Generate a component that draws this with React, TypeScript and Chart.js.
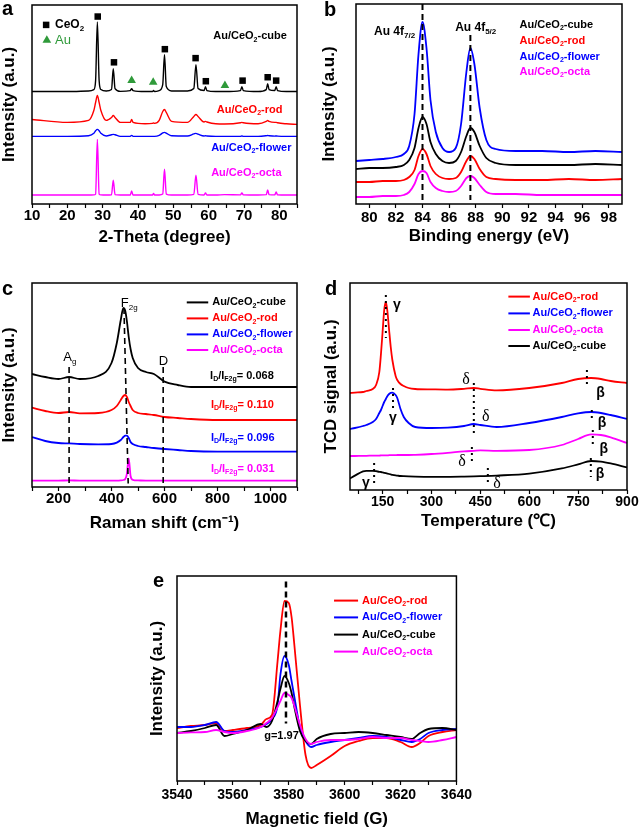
import React, { useEffect, useRef } from 'react';
import Chart from 'chart.js/auto';

const FONT = '"Liberation Sans", Arial, Helvetica, sans-serif';
const SERIF = '"Liberation Serif", "Times New Roman", serif';
const BLACK = '#000000';
const RED = '#ff0000';
const BLUE = '#0000ff';
const MAGENTA = '#ff00ff';
const GREEN = '#2f9a3a';

const nameCube = 'Au/CeO_{2}-cube';
const nameRod = 'Au/CeO_{2}-rod';
const nameFlower = 'Au/CeO_{2}-flower';
const nameOcta = 'Au/CeO_{2}-octa';

// ---------- (a) XRD ----------
const xrdTheta = [10, 20, 26, 27.5, 28, 28.5, 29, 29.5, 31, 32.5, 33, 33.5, 35, 37.8, 38.2, 38.6, 42, 44.1, 44.4, 44.7, 46, 47, 47.5, 48, 49.5, 54, 55.8, 56.4, 57, 58.7, 59.1, 59.5, 62, 64.5, 69, 69.4, 69.8, 74, 76.3, 76.7, 77.1, 78.7, 79.1, 79.5, 82, 85];
const xrdCube = [56.5, 56.5, 56.8, 57.5, 62, 91.5, 62, 57.5, 56.8, 57.5, 68, 58, 56.6, 57, 58, 57, 56.5, 56.5, 57, 56.5, 57, 60, 75, 59, 56.8, 56.8, 58, 70, 58, 57, 59, 57, 56.5, 56.5, 57, 59, 57, 56.5, 57.5, 60.5, 57.5, 57, 59, 57, 56.5, 56.5];
const xrdRod = [42.5, 41, 42, 47, 51, 54.5, 51, 47, 42, 43.5, 44.5, 43.5, 41, 41, 42.5, 41, 40.3, 40.5, 40.7, 40.5, 42, 46.5, 47.5, 46, 41.5, 41, 44, 45, 44, 41.2, 41.5, 41.2, 40.3, 40.2, 40.8, 41, 40.8, 40.3, 41.5, 42, 41.5, 41, 41, 40.8, 40.3, 40];
const xrdFlower = [34, 34, 34.3, 35.5, 36.8, 37.5, 36.8, 35.5, 34.2, 34.8, 35, 34.8, 34, 34, 34.5, 34, 34, 34, 34, 34, 34.5, 35.7, 36, 35.6, 34.3, 34.2, 35.2, 35.5, 35.1, 34.2, 34.3, 34.2, 34, 34, 34, 34.2, 34, 34, 34.3, 34.4, 34.3, 34.1, 34.2, 34.1, 34, 34];
const xrdOcta = [4.5, 4.5, 4.5, 4.6, 5, 32.5, 5, 4.6, 4.5, 4.6, 12, 4.7, 4.5, 4.5, 6.5, 4.5, 4.5, 4.5, 5.3, 4.5, 4.5, 5, 17.5, 5, 4.5, 4.5, 4.8, 14.5, 4.8, 4.5, 5.5, 4.5, 4.5, 4.7, 4.6, 5.6, 4.6, 4.5, 4.7, 7, 4.7, 4.6, 6, 4.6, 4.5, 4.5];
const xrdCeO2PeakX = [28.6, 33.2, 47.6, 56.3, 59.2, 69.6, 76.7, 79.1];
const xrdCeO2MarkY = [94.2, 71.2, 77.8, 73.3, 61.7, 62, 63.7, 62];
const xrdAuPeakX = [38.2, 44.3, 64.6];
const xrdAuMarkY = [62, 61.2, 59.5];
const xrdTicks = [10, 15, 20, 25, 30, 35, 40, 45, 50, 55, 60, 65, 70, 75, 80, 85];
const xrdTickLabels = [10, 20, 30, 40, 50, 60, 70, 80];

// ---------- (b) XPS ----------
const xpsEnergy = [79, 80, 81, 82, 82.6, 83, 83.4, 83.7, 84, 84.3, 84.6, 85, 85.5, 86, 86.5, 86.9, 87.3, 87.6, 87.9, 88.3, 88.8, 89.5, 91, 93, 95, 97, 99];
const xpsFlower = [21.5, 22, 22.5, 23.5, 25, 29, 45, 75, 91, 78, 52, 36, 28, 26, 28, 40, 66, 78, 70, 48, 32, 27.5, 26.5, 26.5, 26, 26.5, 26];
const xpsCube = [17.5, 18, 18, 18.5, 19.5, 22, 28, 38, 43.5, 40, 31, 25, 21.5, 20.5, 21.5, 26, 34, 38, 36, 29, 23, 20.5, 19.5, 19.5, 19.5, 20, 19.5];
const xpsRod = [11, 11, 11.5, 11.5, 12, 13.5, 17, 24, 27.5, 25, 19, 15, 13, 12.5, 13, 16, 21.5, 24, 22.5, 17.5, 13.5, 12.5, 12, 12, 12.5, 12, 12.5];
const xpsOcta = [3.5, 3.5, 4, 4, 4.5, 6, 10, 15, 16.5, 15.5, 11, 8, 6.5, 6, 6.5, 9, 13, 14, 13, 9.5, 6, 5, 5, 4.5, 4.5, 4.5, 4.5];
const xpsPeakLines = [84, 87.6];
const xpsTicks = [80, 82, 84, 86, 88, 90, 92, 94, 96, 98];
const xpsTickLabels = [80, 82, 84, 86, 88, 90, 92, 94, 96, 98];

// ---------- (c) Raman ----------
const ramanShift = [100, 150, 200, 240, 280, 350, 400, 420, 435, 445, 452, 458, 465, 472, 480, 500, 530, 560, 600, 650, 700, 800, 900, 1000, 1100];
const ramanCube = [56.5, 55, 54, 55, 54, 55.5, 62, 72, 83.5, 89.5, 88, 83, 75, 69, 64.5, 59.5, 57.5, 56.5, 52.7, 51, 50, 50, 50, 50, 50];
const ramanRod = [39.7, 38, 37, 37.5, 36.8, 37, 38.5, 40.5, 43.5, 45.5, 46, 45, 42.5, 40.5, 38.5, 37, 36.5, 36, 35, 34.5, 34, 33.5, 33.5, 33.5, 33.5];
const ramanFlower = [25, 23, 22, 21.8, 21.5, 21.3, 21.5, 22.2, 23.5, 25, 25.7, 25.7, 24.5, 22.5, 21.5, 20.5, 20, 19.5, 19, 18.5, 18, 17.7, 17.7, 17.7, 17.7];
const ramanOcta = [3.2, 3.2, 3.2, 3.3, 3.2, 3.2, 3.2, 3.2, 3.3, 3.5, 4, 6.5, 14.3, 5.5, 3.6, 3.3, 3.2, 3.2, 3.2, 3.2, 3.2, 3.2, 3.2, 3.2, 3.2];
const ramanRatios = ['0.068', '0.110', '0.096', '0.031'];
const ramanTicks = [100, 200, 300, 400, 500, 600, 700, 800, 900, 1000, 1100];
const ramanTickLabels = [200, 400, 600, 800, 1000];

// ---------- (d) H2-TPR ----------
const tprTemp = [50, 65, 90, 100, 120, 130, 140, 145, 150, 155, 160, 165, 170, 175, 180, 190, 195, 205, 215, 230, 250, 300, 350, 400, 430, 450, 500, 600, 700, 750, 790, 820, 850, 900];
const tprRod = [48.5, 48.7, 49, 49.5, 50.5, 52.5, 59, 68, 79, 90, 94, 89, 80, 71.5, 65, 57, 55, 53, 52, 51, 50.5, 50.3, 50.2, 50.6, 51, 50.6, 49.8, 51, 53.5, 55.5, 56, 55.5, 54.5, 53.5];
const tprFlower = [30.5, 31, 32, 32.5, 34, 35.5, 38.5, 40, 42, 44, 45.5, 47, 48, 48.6, 48.7, 47.5, 46, 40.5, 36.5, 33.5, 31.5, 31, 31.2, 32, 33, 32.5, 31.5, 33.5, 36.5, 38.3, 39, 38.5, 37.5, 35.5];
const tprOcta = [17, 17, 17.1, 17.1, 17.2, 17.2, 17.2, 17.3, 17.3, 17.3, 17.3, 17.3, 17.4, 17.4, 17.4, 17.4, 17.5, 17.5, 17.5, 17.5, 17.6, 18, 18.6, 19.3, 19.6, 19.8, 19.6, 20, 22.5, 25.5, 27.8, 27.5, 26.3, 23.5];
const tprCube = [5.8, 7.2, 9.3, 9.6, 9.6, 9.4, 9.1, 9, 8.8, 8.6, 8.4, 8.2, 8, 7.8, 7.6, 7.3, 7.2, 7, 6.9, 6.8, 6.7, 6.6, 6.6, 6.7, 6.8, 6.9, 7.2, 8.2, 10.8, 12.8, 14.5, 14.2, 13.3, 11.3];
const tprTicks = [75, 150, 225, 300, 375, 450, 525, 600, 675, 750, 825, 900];
const tprTickLabels = [150, 300, 450, 600, 750, 900];

// ---------- (e) EPR ----------
const eprField = [3540, 3545, 3550, 3554, 3557, 3560, 3565, 3570, 3572, 3574, 3576, 3577, 3578.5, 3580, 3581, 3582, 3584, 3586, 3588, 3590, 3595, 3600, 3605, 3610, 3615, 3620, 3624, 3627, 3630, 3635, 3640];
const eprRod = [26.5, 27.5, 28, 29, 25, 25.5, 26.5, 28, 31, 33, 60, 75, 90, 89, 82, 68, 38, 13, 6.5, 8, 12.5, 17.5, 20, 21.5, 21.5, 19.5, 17, 19, 22.5, 24.5, 25.5];
const eprFlower = [27, 27, 28, 29.5, 25, 24.5, 25.5, 27, 28.5, 31, 38, 53, 62.5, 58, 50, 42, 27, 20, 17, 18, 19.5, 20.5, 21.5, 22.5, 22, 20.5, 19.5, 21, 24, 25.5, 26];
const eprCube = [24, 25, 26.5, 28, 22.5, 23.5, 25.5, 28.5, 27, 30, 40, 46, 52.5, 49, 44, 37, 25, 20, 18.5, 21, 23.5, 24, 24.5, 24, 23, 22, 21, 24, 26, 26.5, 25.5];
const eprOcta = [24, 24.3, 24.5, 25.5, 24.5, 24, 25, 27, 29, 31.5, 37, 40, 44, 43, 41.5, 37.5, 28, 21, 18.5, 19.5, 20.5, 20.5, 21, 22, 21.5, 21.5, 20.5, 20, 19.5, 20.5, 22];
const eprCenterField = 3579;
const eprTicks = [3540, 3550, 3560, 3570, 3580, 3590, 3600, 3610, 3620, 3630, 3640];
const eprTickLabels = [3540, 3560, 3580, 3600, 3620, 3640];

// ---------- helpers ----------
function parseRich(s: string) {
  const out: { t: string; sub?: boolean; sup?: boolean }[] = [];
  const re = /([_^])\{([^}]*)\}/g;
  let last = 0;
  let m: RegExpExecArray | null;
  while ((m = re.exec(s))) {
    if (m.index > last) out.push({ t: s.slice(last, m.index) });
    out.push({ t: m[2], sub: m[1] === '_', sup: m[1] === '^' });
    last = re.lastIndex;
  }
  if (last < s.length) out.push({ t: s.slice(last) });
  return out;
}

function drawRich(ctx: any, text: string, x: number, y: number, size: number, color: string, weight: string, align: string, family: string) {
  const segs = parseRich(text);
  const fontFor = (sg: any) => `${weight} ${sg.sub || sg.sup ? Math.round(size * 0.65) : size}px ${family}`;
  let total = 0;
  for (const sg of segs) {
    ctx.font = fontFor(sg);
    total += ctx.measureText(sg.t).width;
  }
  let cx = align === 'center' ? x - total / 2 : align === 'right' ? x - total : x;
  ctx.fillStyle = color;
  ctx.textBaseline = 'middle';
  ctx.textAlign = 'left';
  for (const sg of segs) {
    ctx.font = fontFor(sg);
    const dy = sg.sub ? size * 0.32 : sg.sup ? -size * 0.35 : 0;
    ctx.fillText(sg.t, cx, y + dy);
    cx += ctx.measureText(sg.t).width;
  }
}

function deco(d: any) {
  return {
    id: 'deco',
    afterDatasetsDraw(chart: any) {
      const { ctx } = chart;
      const sx = chart.scales.x;
      const sy = chart.scales.y;
      const X = (v: number) => sx.getPixelForValue(v);
      const Y = (v: number) => sy.getPixelForValue(v);
      ctx.save();
      for (const l of d.vlines || []) {
        ctx.beginPath();
        ctx.setLineDash(l.dash);
        ctx.lineWidth = l.width;
        ctx.strokeStyle = l.color || BLACK;
        ctx.moveTo(X(l.x1), Y(l.y1));
        ctx.lineTo(X(l.x2 !== undefined ? l.x2 : l.x1), Y(l.y2));
        ctx.stroke();
      }
      ctx.setLineDash([]);
      for (const g of d.legend || []) {
        ctx.beginPath();
        ctx.lineWidth = 2;
        ctx.strokeStyle = g.color;
        ctx.moveTo(X(g.x1), Y(g.y));
        ctx.lineTo(X(g.x2), Y(g.y));
        ctx.stroke();
        drawRich(ctx, g.text, X(g.tx), Y(g.y), g.size || 11, g.color, 'bold', 'left', FONT);
      }
      for (const s of d.symbols || []) {
        const px = X(s.x);
        const py = Y(s.y);
        ctx.fillStyle = s.color;
        ctx.beginPath();
        if (s.shape === 'rect') {
          const h = s.r * Math.SQRT1_2;
          ctx.rect(px - h, py - h, 2 * h, 2 * h);
        } else {
          ctx.moveTo(px, py - s.r);
          ctx.lineTo(px + 0.866 * s.r, py + 0.5 * s.r);
          ctx.lineTo(px - 0.866 * s.r, py + 0.5 * s.r);
          ctx.closePath();
        }
        ctx.fill();
      }
      for (const t of d.texts || []) {
        drawRich(ctx, t.text, X(t.x), Y(t.y), t.size || 11, t.color || BLACK, t.weight || 'bold', t.align || 'left', t.family || FONT);
      }
      ctx.restore();
    },
    afterDraw(chart: any) {
      const { ctx, chartArea: ca } = chart;
      ctx.save();
      ctx.lineWidth = 1.5;
      ctx.strokeStyle = BLACK;
      ctx.setLineDash([]);
      ctx.strokeRect(ca.left, ca.top, ca.right - ca.left, ca.bottom - ca.top);
      ctx.font = `bold 20px ${FONT}`;
      ctx.fillStyle = BLACK;
      ctx.textBaseline = 'alphabetic';
      ctx.textAlign = 'left';
      ctx.fillText(d.letter, d.lx, d.ly);
      ctx.restore();
    },
  };
}

function series(xs: number[], ys: number[], color: string, label: string, width = 1.8) {
  return {
    label,
    data: xs.map((x, i) => ({ x, y: ys[i] })),
    borderColor: color,
    backgroundColor: color,
    borderWidth: width,
    pointRadius: 0,
    fill: false,
    cubicInterpolationMode: 'monotone',
  };
}

function markers(xs: number[], ys: number[], color: string, style: string, r: number, label: string) {
  return {
    label,
    data: xs.map((x, i) => ({ x, y: ys[i] })),
    showLine: false,
    pointStyle: style,
    pointRadius: r,
    backgroundColor: color,
    borderColor: color,
    borderWidth: 0,
  };
}

function baseOptions(p: any) {
  return {
    responsive: false,
    animation: false,
    devicePixelRatio: 1,
    events: [],
    layout: { padding: { left: 0, right: p.padRight, top: p.padTop, bottom: 0 } },
    plugins: { legend: { display: false }, tooltip: { enabled: false } },
    scales: {
      x: {
        type: 'linear',
        min: p.xMin,
        max: p.xMax,
        afterBuildTicks: (s: any) => {
          s.ticks = p.ticks.map((v: number) => ({ value: v }));
        },
        afterFit: (s: any) => {
          s.height = p.xHeight;
        },
        grid: { display: true, drawOnChartArea: false, drawTicks: true, tickLength: 4, tickColor: BLACK, tickWidth: 1.2 },
        border: { display: false },
        ticks: {
          color: BLACK,
          autoSkip: false,
          maxRotation: 0,
          padding: p.tickPad,
          font: { family: FONT, size: p.tickSize, weight: 'bold', lineHeight: 1 },
          callback: (v: any) => (p.labels.indexOf(v) >= 0 ? String(v) : ''),
        },
        title: {
          display: true,
          text: p.xTitle,
          color: BLACK,
          font: { family: FONT, size: 17, weight: 'bold', lineHeight: 1 },
          padding: { top: 0, bottom: p.xTitlePad },
        },
      },
      y: {
        type: 'linear',
        min: 0,
        max: p.yMax,
        afterFit: (s: any) => {
          s.width = p.yWidth;
        },
        grid: { display: false },
        border: { display: false },
        ticks: { display: false },
        title: {
          display: true,
          text: p.yTitle,
          color: BLACK,
          font: { family: FONT, size: 17, weight: 'bold', lineHeight: 1 },
          padding: { top: p.yTitlePad, bottom: 0 },
        },
      },
    },
  };
}

// ---------- chart builders ----------
function buildXrd() {
  return {
    type: 'line',
    data: {
      datasets: [
        series(xrdTheta, xrdCube, BLACK, nameCube, 1.4),
        series(xrdTheta, xrdRod, RED, nameRod, 1.4),
        series(xrdTheta, xrdFlower, BLUE, nameFlower, 1.4),
        series(xrdTheta, xrdOcta, MAGENTA, nameOcta, 1.4),
        markers(xrdCeO2PeakX, xrdCeO2MarkY, BLACK, 'rect', 4.6, 'CeO2'),
        markers(xrdAuPeakX, xrdAuMarkY, GREEN, 'triangle', 5, 'Au'),
      ],
    },
    options: baseOptions({
      xMin: 10, xMax: 85, ticks: xrdTicks, labels: xrdTickLabels, xTitle: '2-Theta (degree)', yMax: 100,
      yTitle: 'Intensity (a.u.)', yWidth: 32, xHeight: 64, padTop: 4, padRight: 23, tickSize: 15, tickPad: 0,
      xTitlePad: 22.5, yTitlePad: 0.5,
    }),
    plugins: [
      deco({
        letter: 'a', lx: 2, ly: 15,
        symbols: [
          { x: 14, y: 90, shape: 'rect', r: 4.6, color: BLACK },
          { x: 14.2, y: 82.3, shape: 'tri', r: 5, color: GREEN },
        ],
        texts: [
          { x: 16.5, y: 90, text: 'CeO_{2}', size: 12 },
          { x: 16.5, y: 82.3, text: 'Au', size: 13, weight: 'normal', color: GREEN },
          { x: 61.3, y: 84.2, text: nameCube, color: BLACK },
          { x: 62.3, y: 47.5, text: nameRod, color: RED },
          { x: 60.7, y: 28.2, text: nameFlower, color: BLUE },
          { x: 60.7, y: 15.7, text: nameOcta, color: MAGENTA },
        ],
      }),
    ],
  };
}

function buildXps() {
  return {
    type: 'line',
    data: {
      datasets: [
        series(xpsEnergy, xpsFlower, BLUE, nameFlower),
        series(xpsEnergy, xpsCube, BLACK, nameCube),
        series(xpsEnergy, xpsRod, RED, nameRod),
        series(xpsEnergy, xpsOcta, MAGENTA, nameOcta),
      ],
    },
    options: baseOptions({
      xMin: 79, xMax: 99, ticks: xpsTicks, labels: xpsTickLabels, xTitle: 'Binding energy (eV)', yMax: 100,
      yTitle: 'Intensity (a.u.)', yWidth: 36, xHeight: 64, padTop: 4, padRight: 18, tickSize: 15, tickPad: 2,
      xTitlePad: 23.5, yTitlePad: 0.5,
    }),
    plugins: [
      deco({
        letter: 'b', lx: 4, ly: 16,
        vlines: [
          { x1: xpsPeakLines[0], y1: 100, y2: 2, dash: [6, 4], width: 2 },
          { x1: xpsPeakLines[1], y1: 84.5, y2: 2, dash: [6, 4], width: 2 },
        ],
        texts: [
          { x: 81.9, y: 86.2, text: 'Au 4f_{7/2}', size: 12, align: 'center' },
          { x: 88.0, y: 88.1, text: 'Au 4f_{5/2}', size: 12, align: 'center' },
          { x: 91.3, y: 89.5, text: nameCube, color: BLACK },
          { x: 91.3, y: 81.7, text: nameRod, color: RED },
          { x: 91.3, y: 73.7, text: nameFlower, color: BLUE },
          { x: 91.3, y: 66.2, text: nameOcta, color: MAGENTA },
        ],
      }),
    ],
  };
}

function buildRaman() {
  return {
    type: 'line',
    data: {
      datasets: [
        series(ramanShift, ramanCube, BLACK, nameCube),
        series(ramanShift, ramanRod, RED, nameRod),
        series(ramanShift, ramanFlower, BLUE, nameFlower),
        series(ramanShift, ramanOcta, MAGENTA, nameOcta),
      ],
    },
    options: baseOptions({
      xMin: 100, xMax: 1100, ticks: ramanTicks, labels: ramanTickLabels, xTitle: 'Raman shift (cm\u207B\u00B9)', yMax: 102,
      yTitle: 'Intensity (a.u.)', yWidth: 32, xHeight: 51, padTop: 13, padRight: 23, tickSize: 15, tickPad: 0,
      xTitlePad: 6.5, yTitlePad: 0.5,
    }),
    plugins: [
      deco({
        letter: 'c', lx: 2, ly: 25,
        vlines: [
          { x1: 240, y1: 60, y2: 1.8, dash: [6, 4], width: 1.6 },
          { x1: 447, y1: 89.5, x2: 463, y2: 1.8, dash: [6, 4], width: 1.6 },
          { x1: 595, y1: 60, y2: 1.8, dash: [6, 4], width: 1.6 },
        ],
        legend: [
          { x1: 684, x2: 765, tx: 780, y: 92.3, color: BLACK, text: nameCube },
          { x1: 684, x2: 765, tx: 780, y: 84.3, color: RED, text: nameRod },
          { x1: 684, x2: 765, tx: 780, y: 76.3, color: BLUE, text: nameFlower },
          { x1: 684, x2: 765, tx: 780, y: 68.5, color: MAGENTA, text: nameOcta },
        ],
        texts: [
          { x: 243, y: 64.8, text: 'A_{g}', size: 13, weight: 'normal', align: 'center' },
          { x: 435, y: 91.8, text: 'F_{2g}', size: 13, weight: 'normal' },
          { x: 595.6, y: 63, text: 'D', size: 13, weight: 'normal', align: 'center' },
          { x: 772, y: 55.5, text: 'I_{D}/I_{F2g}= ' + ramanRatios[0], size: 11, color: BLACK },
          { x: 775, y: 41, text: 'I_{D}/I_{F2g}= ' + ramanRatios[1], size: 11, color: RED },
          { x: 775, y: 24.7, text: 'I_{D}/I_{F2g}= ' + ramanRatios[2], size: 11, color: BLUE },
          { x: 775, y: 9, text: 'I_{D}/I_{F2g}= ' + ramanRatios[3], size: 11, color: MAGENTA },
        ],
      }),
    ],
  };
}

function buildTpr() {
  const dot = [2, 4];
  return {
    type: 'line',
    data: {
      datasets: [
        series(tprTemp, tprRod, RED, nameRod),
        series(tprTemp, tprFlower, BLUE, nameFlower),
        series(tprTemp, tprOcta, MAGENTA, nameOcta),
        series(tprTemp, tprCube, BLACK, nameCube),
      ],
    },
    options: baseOptions({
      xMin: 50, xMax: 900, ticks: tprTicks, labels: tprTickLabels, xTitle: 'Temperature (\u2103)', yMax: 103.5,
      yTitle: 'TCD signal (a.u.)', yWidth: 30, xHeight: 48, padTop: 13, padRight: 13, tickSize: 14, tickPad: 1,
      xTitlePad: 8.5, yTitlePad: 2.5,
    }),
    plugins: [
      deco({
        letter: 'd', lx: 5, ly: 25,
        vlines: [
          { x1: 160, y1: 97.5, y2: 76, dash: dot, width: 2 },
          { x1: 182, y1: 51, y2: 40, dash: dot, width: 2 },
          { x1: 430, y1: 53.5, y2: 26.5, dash: dot, width: 2 },
          { x1: 424, y1: 21.5, y2: 12.5, dash: dot, width: 2 },
          { x1: 124, y1: 13.5, y2: 3.5, dash: dot, width: 2 },
          { x1: 473, y1: 11, y2: 3.5, dash: dot, width: 2 },
          { x1: 777, y1: 60, y2: 51, dash: dot, width: 2 },
          { x1: 792, y1: 40, y2: 35, dash: dot, width: 2 },
          { x1: 795, y1: 30, y2: 22.5, dash: dot, width: 2 },
          { x1: 789, y1: 16, y2: 6.5, dash: dot, width: 2 },
        ],
        legend: [
          { x1: 536, x2: 602, tx: 610, y: 96.7, color: RED, text: nameRod },
          { x1: 536, x2: 602, tx: 610, y: 88.3, color: BLUE, text: nameFlower },
          { x1: 536, x2: 602, tx: 610, y: 80, color: MAGENTA, text: nameOcta },
          { x1: 536, x2: 602, tx: 610, y: 72, color: BLACK, text: nameCube },
        ],
        texts: [
          { x: 194, y: 92.5, text: '\u03B3', size: 14, align: 'center' },
          { x: 182, y: 36, text: '\u03B3', size: 14, align: 'center' },
          { x: 99, y: 3.5, text: '\u03B3', size: 14, align: 'center' },
          { x: 406, y: 55, text: '\u03B4', size: 16, weight: 'normal', family: SERIF, align: 'center' },
          { x: 467, y: 36.5, text: '\u03B4', size: 16, weight: 'normal', family: SERIF, align: 'center' },
          { x: 394, y: 14, text: '\u03B4', size: 16, weight: 'normal', family: SERIF, align: 'center' },
          { x: 501, y: 3, text: '\u03B4', size: 16, weight: 'normal', family: SERIF, align: 'center' },
          { x: 819, y: 48.5, text: '\u03B2', size: 14, align: 'center' },
          { x: 823, y: 33.5, text: '\u03B2', size: 14, align: 'center' },
          { x: 829, y: 20.5, text: '\u03B2', size: 14, align: 'center' },
          { x: 817, y: 8, text: '\u03B2', size: 14, align: 'center' },
        ],
      }),
    ],
  };
}

function buildEpr() {
  return {
    type: 'line',
    data: {
      datasets: [
        series(eprField, eprOcta, MAGENTA, nameOcta),
        series(eprField, eprCube, BLACK, nameCube),
        series(eprField, eprFlower, BLUE, nameFlower),
        series(eprField, eprRod, RED, nameRod),
      ],
    },
    options: baseOptions({
      xMin: 3540, xMax: 3640, ticks: eprTicks, labels: eprTickLabels, xTitle: 'Magnetic field (G)', yMax: 102.5,
      yTitle: 'Intensity (a.u.)', yWidth: 32, xHeight: 50, padTop: 11, padRight: 18, tickSize: 14, tickPad: 3,
      xTitlePad: 3.5, yTitlePad: 3.5,
    }),
    plugins: [
      deco({
        letter: 'e', lx: 8, ly: 22,
        vlines: [{ x1: eprCenterField, y1: 99.7, y2: 28.8, dash: [6, 4], width: 2.5 }],
        legend: [
          { x1: 3596.2, x2: 3604.8, tx: 3606.2, y: 90.2, color: RED, text: nameRod },
          { x1: 3596.2, x2: 3604.8, tx: 3606.2, y: 81.8, color: BLUE, text: nameFlower },
          { x1: 3596.2, x2: 3604.8, tx: 3606.2, y: 73.2, color: BLACK, text: nameCube },
          { x1: 3596.2, x2: 3604.8, tx: 3606.2, y: 64.7, color: MAGENTA, text: nameOcta },
        ],
        texts: [{ x: 3577.4, y: 22.5, text: 'g=1.97', size: 11, align: 'center' }],
      }),
    ],
  };
}

function Panel({ left, top, width, height, build }: { left: number; top: number; width: number; height: number; build: () => any }) {
  const ref = useRef<HTMLCanvasElement>(null);
  useEffect(() => {
    const chart = new Chart(ref.current as HTMLCanvasElement, build());
    return () => chart.destroy();
  }, []);
  return <canvas ref={ref} width={width} height={height} style={{ position: 'absolute', left, top, width, height }} />;
}

export default function App() {
  Chart.defaults.font.family = FONT;
  return (
    <div style={{ position: 'absolute', left: 0, top: 0, width: 640, height: 831, background: '#ffffff' }}>
      <Panel left={0} top={0} width={320} height={268} build={buildXrd} />
      <Panel left={320} top={0} width={320} height={268} build={buildXps} />
      <Panel left={0} top={270} width={320} height={268} build={buildRaman} />
      <Panel left={320} top={270} width={320} height={268} build={buildTpr} />
      <Panel left={145} top={565} width={330} height={266} build={buildEpr} />
    </div>
  );
}
